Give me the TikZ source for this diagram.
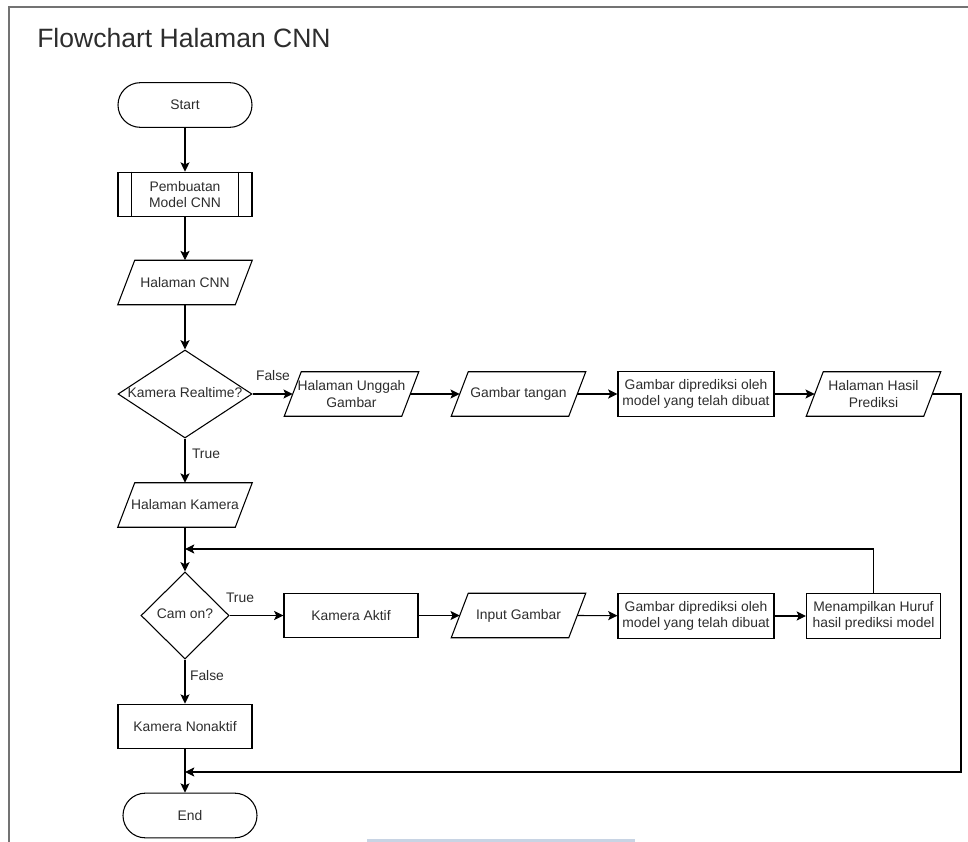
\documentclass[tikz,border=0pt]{standalone}
\usepackage{fontspec}
\setmainfont{Liberation Sans}
\usetikzlibrary{arrows.meta,shapes.geometric}
\definecolor{ink}{RGB}{45,45,45}
\definecolor{framegray}{RGB}{115,115,115}
\definecolor{scanblue}{RGB}{200,212,228}
% text that may overhang its shape without widening it
\newcommand\overhang[1]{\makebox[0pt][c]{\begin{tabular}{@{}c@{}}#1\end{tabular}}}
\begin{document}
\begin{tikzpicture}[x=0.75pt,y=-0.75pt,
  every node/.style={font=\fontsize{10.4pt}{12.6pt}\selectfont, text=ink},
  plain/.style={draw=black, line width=0.8pt},
  box/.style={plain, rectangle, minimum width=100.5pt,
    minimum height=33.5pt, inner sep=0pt, align=center},
  wide/.style={box, minimum width=117pt},
  term/.style={box, rounded corners=16.75pt},
  % data shape: a parallelogram leaning right, slant 12.75pt
  io/.style={rectangle, minimum width=100.5pt, minimum height=33pt,
    inner sep=0pt, align=center,
    append after command={\pgfextra{\draw[plain]
      (\tikzlastnode.south west) -- ([xshift=12.75pt]\tikzlastnode.north west)
      -- (\tikzlastnode.north east) -- ([xshift=-12.75pt]\tikzlastnode.south east)
      -- cycle;}}},
  decide/.style={plain, diamond, inner sep=0.5pt},
  flow/.style={plain, -{Stealth[length=7pt,width=6.8pt,inset=1.6pt]}},
  lbl/.style={inner sep=1pt},
]
\useasboundingbox (0,0) rectangle (968,842);

% page frame and title
\draw[framegray, line width=1.2pt] (9,842) -- (9,7) -- (968,7);
\fill[scanblue] (367,839) rectangle (635,842);
\node[anchor=west, inner sep=0pt, font=\fontsize{19.9pt}{24pt}\selectfont] (title)
  at (37,38) {Flowchart Halaman CNN};

% main column
\node[term] (start) at (185,105) {Start};
\node[box] (model) at (185,194.5) {Pembuatan\\Model CNN};
\draw[plain] ([xshift=10.5pt]model.north west) -- ([xshift=10.5pt]model.south west);
\draw[plain] ([xshift=-10.5pt]model.north east) -- ([xshift=-10.5pt]model.south east);
\node[io] (hcnn) at (185,282.5) {Halaman CNN};
\node[decide, minimum width=100.5pt, minimum height=66pt] (realtime)
  at (185,394) {\overhang{Kamera Realtime?}};

% upload branch
\node[io] (unggah) at (351.5,394) {Halaman Unggah\\Gambar};
\node[io] (tangan) at (518.5,394) {Gambar tangan};
\node[wide] (pred1) at (696,394) {Gambar diprediksi oleh\\model yang telah dibuat};
\node[io] (hasil) at (873.5,394) {Halaman Hasil\\Prediksi};

% camera branch
\node[io] (hkam) at (185,505) {Halaman Kamera};
\node[decide, minimum width=66pt, minimum height=65.25pt] (camon)
  at (185,615.5) {\overhang{Cam on?}};
\node[box] (aktif) at (351,615.5) {Kamera Aktif};
\node[io] (input) at (518.5,615.5) {Input Gambar};
\node[wide] (pred2) at (696,616) {Gambar diprediksi oleh\\model yang telah dibuat};
\node[box] (tampil) at (873.5,616) {Menampilkan Huruf\\hasil prediksi model};
\node[box] (nonaktif) at (185,726.5) {Kamera Nonaktif};
\node[term] (end) at (190,815.5) {End};

% junction points
\coordinate (loop) at (185,549);
\coordinate (merge) at (185,772);
\coordinate (rail) at (961,0);

% connectors (slanted sides meet the flow 6.4pt inside the bounding box)
\draw[flow] (start) -- (model);
\draw[flow] (model) -- (hcnn);
\draw[flow] (hcnn) -- (realtime);
\draw[flow] (realtime) -- ([xshift=6.4pt]unggah.west);
\node[lbl] (lfalse1) at (273,376) {False};
\draw[flow] ([xshift=-6.4pt]unggah.east) -- ([xshift=6.4pt]tangan.west);
\draw[flow] ([xshift=-6.4pt]tangan.east) -- (pred1);
\draw[flow] (pred1) -- ([xshift=6.4pt]hasil.west);
\draw[flow] ([xshift=-6.4pt]hasil.east) -- (hasil.east -| rail) |- (merge);

\draw[flow] (realtime) -- (hkam);
\node[lbl] (ltrue1) at (206,454) {True};
\draw[plain] (hkam) -- (loop);
\draw[flow] (loop) -- (camon);
\draw[flow] (tampil.north) |- (loop);

\draw[flow] (camon) -- (aktif);
\node[lbl] (ltrue2) at (240,598) {True};
\draw[flow] (aktif) -- ([xshift=6.4pt]input.west);
\draw[flow] ([xshift=-6.4pt]input.east) -- (pred2);
\draw[flow] (pred2) -- (tampil);

\draw[flow] (camon) -- (nonaktif);
\node[lbl] (lfalse2) at (207,676) {False};
\draw[plain] (nonaktif) -- (merge);
\draw[flow] (merge) -- (merge |- end.north);
\end{tikzpicture}
\end{document}
